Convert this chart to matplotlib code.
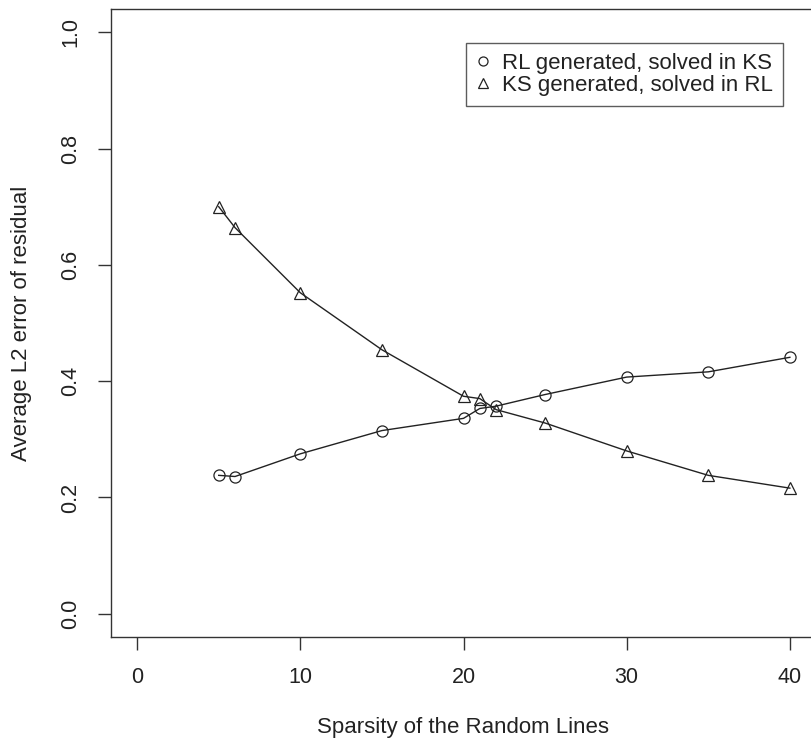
import matplotlib
matplotlib.use("Agg")
import matplotlib.pyplot as plt
from matplotlib.lines import Line2D

plt.rcParams['font.family'] = ['Liberation Sans', 'DejaVu Sans']

# sparsity values and average residual errors
sparsity = [5, 6, 10, 15, 20, 21, 22, 25, 30, 35, 40]
rl_in_ks = [0.238, 0.236, 0.275, 0.315, 0.336, 0.353, 0.357, 0.377, 0.407, 0.416, 0.441]
ks_in_rl = [0.700, 0.664, 0.552, 0.454, 0.374, 0.370, 0.351, 0.328, 0.280, 0.238, 0.216]
labels = ['RL generated, solved in KS', 'KS generated, solved in RL']

x_ticks = [0, 10, 20, 30, 40]
y_ticks = [0.0, 0.2, 0.4, 0.6, 0.8, 1.0]

W, H = 811, 740
fig = plt.figure(figsize=(W / 100, H / 100), dpi=100)
# plot box in pixels: left 111, right 816 (cut off by the image edge), top 9, bottom 637
ax = fig.add_axes([111 / W, (H - 637) / H, 705 / W, 628 / H])

ax.plot(sparsity, rl_in_ks, color='#222222', lw=1, marker='o', ms=8,
        mfc='none', mec='#222222', mew=0.9)
ax.plot(sparsity, ks_in_rl, color='#222222', lw=1, marker='^', ms=9,
        mfc='none', mec='#222222', mew=0.9)

ax.set_xlim(-1.6, 41.6)
ax.set_ylim(-0.04, 1.04)
ax.set_xticks(x_ticks)
ax.set_yticks(y_ticks)
ax.set_yticklabels(['%.1f' % v for v in y_ticks], rotation=90, va='center')
ax.tick_params(direction='out', length=9.5, width=1, labelsize=15.5, pad=12,
               colors='#333333', labelcolor='#222222')

for s in ax.spines.values():
    s.set_linewidth(1)
    s.set_color('#333333')

fig.text(463 / W, 1 - 728 / H, 'Sparsity of the Random Lines', ha='center', va='center',
         fontsize=16, color='#222222')
fig.text(22 / W, 1 - 323 / H, 'Average L2 error of residual', ha='center', va='center',
         rotation=90, fontsize=16, color='#222222')

# R style legend: symbols only, no line segments
handles = [Line2D([], [], ls='none', marker='o', ms=6.5, mfc='none', mec='#222222', mew=0.9),
           Line2D([], [], ls='none', marker='^', ms=7, mfc='none', mec='#222222', mew=0.9)]
leg = ax.legend(handles, labels, loc='upper right', bbox_to_anchor=(0.953, 0.946),
                fancybox=False, edgecolor='#333333', fontsize=16, handlelength=0.6,
                handletextpad=0.55, borderpad=0.45, labelspacing=0.05, borderaxespad=0)
leg.get_frame().set_linewidth(1)
for t in leg.get_texts():
    t.set_color('#222222')

fig.savefig('out.png', dpi=100)
